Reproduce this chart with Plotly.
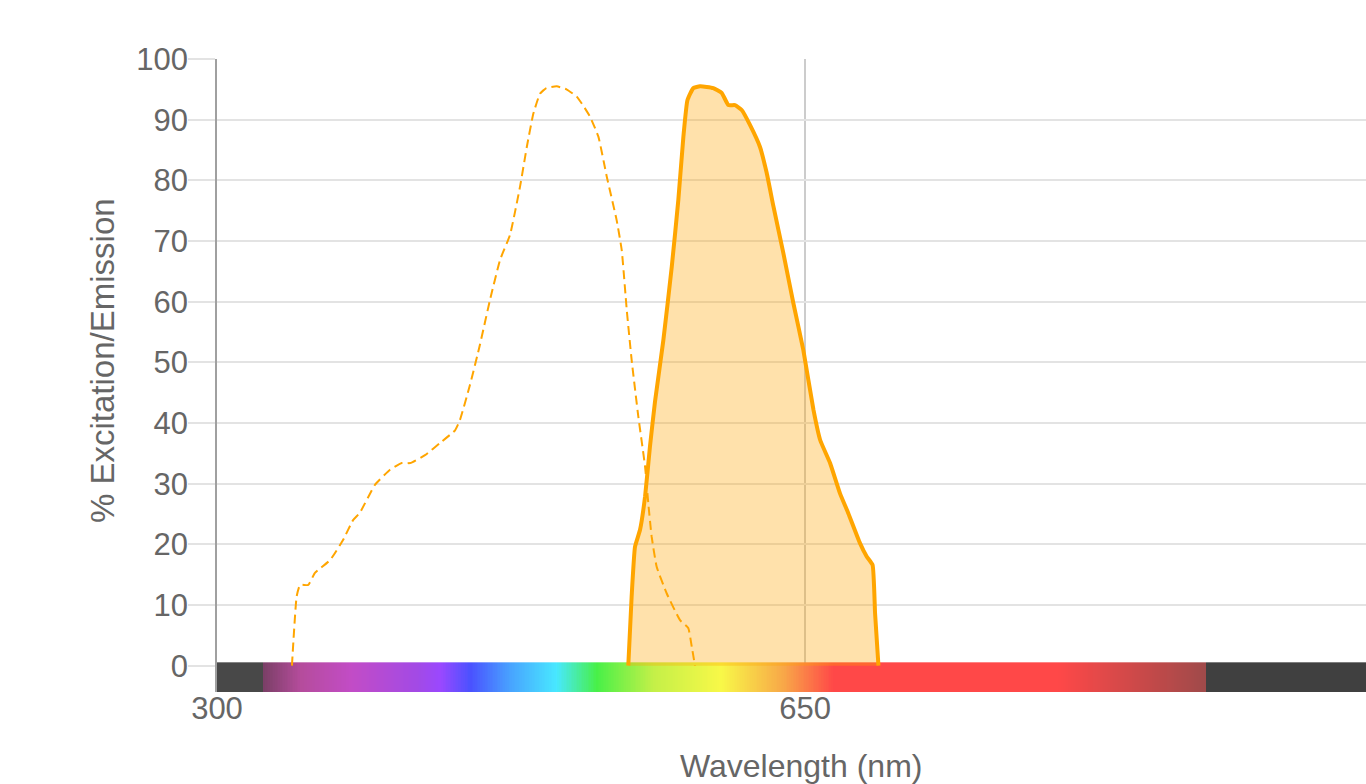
import numpy as np
import plotly.graph_objects as go

# Excitation spectrum (dashed), nm / %
ex_nm = [344.6, 347.4, 349.4, 354.3, 358.3, 367.3, 375.0, 381.0, 385.0, 394.0, 403.0, 410.0,
         415.0, 423.8, 432.7, 441.7, 444.6, 450.6, 456.5, 462.5, 468.5, 474.4, 480.4, 484.4,
         488.3, 492.3, 496.0, 502.2, 508.0, 514.1, 518.0, 522.0, 527.0, 532.0, 537.9, 540.9,
         543.9, 546.8, 550.8, 554.8, 556.7, 558.7, 561.7, 567.7, 575.6, 580.5, 582.6, 584.5]
ex_val = [0.0, 11.4, 13.3, 13.3, 15.3, 17.4, 20.7, 24.0, 25.2, 29.8, 32.3, 33.4,
          33.4, 34.7, 36.7, 38.8, 40.5, 46.3, 52.9, 60.3, 66.9, 71.0, 79.0, 85.5,
          91.0, 94.3, 95.2, 95.5, 95.0, 93.8, 92.3, 90.5, 87.2, 80.6, 73.4, 68.5,
          58.6, 50.4, 41.0, 32.8, 26.8, 21.3, 16.3, 11.9, 7.5, 6.2, 3.1, 0.0]

# Emission spectrum (solid, filled), nm / %
em_nm = [544.8, 546.8, 548.8, 551.8, 554.8, 557.7, 560.7, 565.7, 570.7, 574.6, 577.6, 580.0,
         583.5, 587.5, 591.5, 595.4, 600.4, 604.4, 608.3, 612.3, 617.3, 623.2, 627.2, 631.2,
         637.1, 643.1, 649.0, 655.0, 659.0, 664.9, 670.8, 675.8, 682.7, 686.7, 690.2, 691.7, 693.7]
em_val = [0.0, 11.4, 19.6, 22.4, 27.9, 36.1, 43.5, 53.7, 65.8, 76.8, 87.2, 93.2,
          95.2, 95.5, 95.4, 95.2, 94.4, 92.4, 92.4, 91.6, 89.1, 85.5, 81.2, 75.7,
          68.0, 59.7, 52.0, 42.2, 37.2, 33.4, 28.4, 25.1, 20.2, 18.0, 16.6, 8.6, 0.0]

# Visible-spectrum strip: wavelength stops and colours
strip_nm = [300, 327, 327.5, 350, 380, 420, 433, 451, 475, 502, 526, 560, 600, 637, 667, 800, 888, 888.5, 984]
strip_col = ["#484848", "#484848", "#7a3f66", "#b54c9c", "#c24cc6", "#a24ae6", "#9a48ff", "#4a52ff",
             "#48a4ff", "#48e8ff", "#48f048", "#c4f048", "#f8f848", "#f8a848", "#ff4848", "#ff4848",
             "#a04a4a", "#404040", "#404040"]

x_min, x_max = 300, 983.9
y_min, y_max = -4.34, 100
strip_top = 0.55

orange = "#FFA500"
fig = go.Figure()

fig.add_trace(go.Scatter(x=em_nm, y=em_val, mode="lines", fill="tozeroy",
                         fillcolor="rgba(255,165,0,0.33)",
                         line=dict(color=orange, width=4, shape="spline", smoothing=0.4),
                         hoverinfo="skip", showlegend=False))
fig.add_trace(go.Scatter(x=ex_nm, y=ex_val, mode="lines",
                         line=dict(color=orange, width=2, dash="9px,5px", shape="spline", smoothing=0.4),
                         hoverinfo="skip", showlegend=False))

lo, hi = strip_nm[0], strip_nm[-1]
cscale = [[(n - lo) / (hi - lo), c] for n, c in zip(strip_nm, strip_col)]
sx = np.arange(lo, hi + 1, 1.0)
fig.add_trace(go.Heatmap(x=sx, y=[y_min, strip_top], z=[sx], zmin=lo, zmax=hi,
                         colorscale=cscale, showscale=False, hoverinfo="skip"))

font = "Liberation Sans, Arial, Helvetica, sans-serif"
fig.update_layout(
    width=1366, height=784,
    margin=dict(l=217, r=0, t=59, b=92),
    paper_bgcolor="white", plot_bgcolor="white",
    font=dict(family=font, color="#666666", size=31),
    xaxis=dict(range=[x_min, x_max], tickvals=[300, 650], ticktext=["300", "650"],
               showgrid=True, gridcolor="#cccccc", gridwidth=1.5, zeroline=False,
               showline=False, ticks="", ticklabelstandoff=-5,
               tickfont=dict(size=31, color="#666666")),
    yaxis=dict(range=[y_min, y_max], tickvals=list(range(0, 101, 10)),
               showgrid=True, gridcolor="#e3e3e3", gridwidth=1.5, zeroline=False,
               showline=True, linecolor="#a0a0a0", linewidth=1.5,
               ticks="outside", ticklen=27, tickcolor="#e3e3e3", tickwidth=1.5,
               ticklabelstandoff=-6,
               tickfont=dict(size=31, color="#666666")),
    annotations=[
        dict(text="% Excitation/Emission", xref="paper", yref="paper",
             x=(102 - 217) / 1149, y=(692 - 361) / 633, textangle=-90,
             showarrow=False, xanchor="center", yanchor="middle",
             font=dict(size=33, color="#666666")),
        dict(text="Wavelength (nm)", xref="paper", yref="paper",
             x=(801 - 217) / 1149, y=(692 - 766) / 633,
             showarrow=False, xanchor="center", yanchor="middle",
             font=dict(size=32, color="#666666")),
    ],
)

fig.write_html("out.html", config={"displayModeBar": False},
               post_script="document.body.style.margin='0';")
